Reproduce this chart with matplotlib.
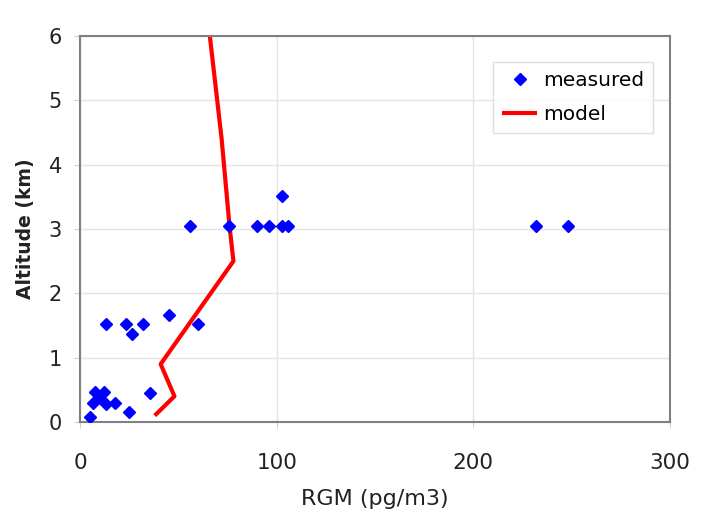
import matplotlib
matplotlib.use("Agg")
import matplotlib.pyplot as plt

# measured RGM (pg/m3) vs altitude (km)
meas_rgm = [56, 76, 90, 96, 102.5, 106, 102.5, 232, 248,
            13, 23.5, 26.5, 32, 45, 60,
            5, 7.6, 12.4, 10.2, 6.8, 13.2, 17.8, 25, 35.7]
meas_alt = [3.05, 3.05, 3.05, 3.05, 3.05, 3.05, 3.51, 3.05, 3.05,
            1.52, 1.52, 1.36, 1.52, 1.67, 1.52,
            0.08, 0.47, 0.47, 0.38, 0.29, 0.28, 0.30, 0.15, 0.45]

# model profile
model_rgm = [38, 48, 41, 78, 76, 72, 66]
model_alt = [0.1, 0.4, 0.9, 2.5, 3.05, 4.4, 6.0]

xticks = [0, 100, 200, 300]
yticks = [0, 1, 2, 3, 4, 5, 6]

plt.rcParams['font.family'] = ['DejaVu Sans']

fig = plt.figure(figsize=(7.07, 5.12), dpi=100)
ax = fig.add_axes([0.1132, 0.1758, 0.8345, 0.7539])

ax.plot(meas_rgm, meas_alt, linestyle='none', marker='D', markersize=6.5,
        color='#0000ff', label='measured', zorder=3)
ax.plot(model_rgm, model_alt, color='#ff0000', linewidth=3, label='model',
        zorder=2, solid_capstyle='butt')

ax.set_xlim(0, 300)
ax.set_ylim(0, 6)
ax.set_xticks(xticks)
ax.set_yticks(yticks)
ax.grid(True, color='#e4e4e4', linewidth=1)
ax.set_axisbelow(True)

for s in ax.spines.values():
    s.set_color('#808080')
    s.set_linewidth(1.5)

ax.tick_params(axis='x', length=4, color='#d0d0d0', pad=18, labelsize=15.5,
               labelcolor='#222222')
ax.tick_params(axis='y', length=4, color='#d0d0d0', pad=9, labelsize=15,
               labelcolor='#222222')

ax.set_xlabel('RGM (pg/m3)', fontsize=16, labelpad=12, color='#222222')
ax.set_ylabel('Altitude (km)', fontsize=13.5, fontweight='bold', labelpad=10,
              color='#222222')

leg = ax.legend(loc='upper right', bbox_to_anchor=(0.971, 0.9326),
                borderaxespad=0,
                fontsize=14.5, frameon=True, fancybox=False,
                edgecolor='#d8d8d8', handlelength=1.7, handletextpad=0.3,
                borderpad=0.45, labelspacing=0.75)
leg.get_frame().set_linewidth(1)

fig.savefig('out.png', dpi=100)
